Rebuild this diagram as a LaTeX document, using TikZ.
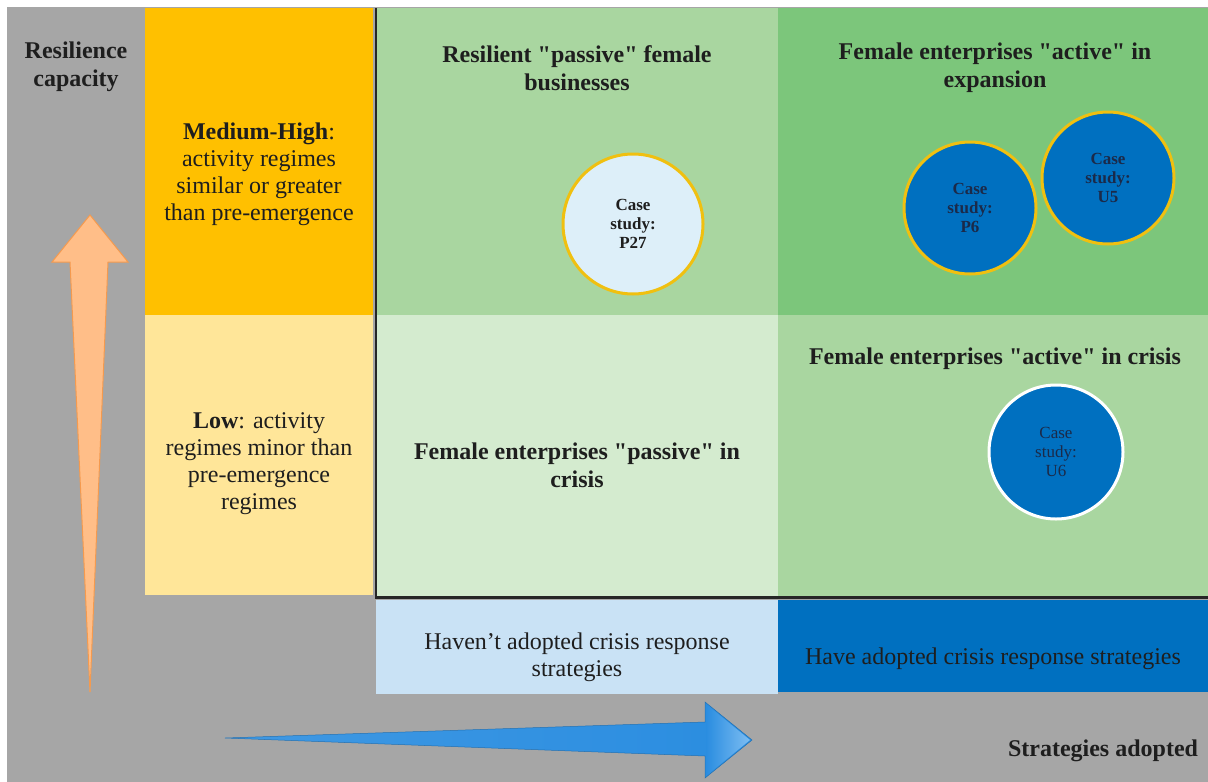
\documentclass[tikz,border=0pt]{standalone}
\usepackage{fontspec}
\setmainfont{Liberation Serif}
\newfontfamily\quadfont{Liberation Serif}
\usetikzlibrary{positioning}

\definecolor{bggray}{HTML}{A6A6A6}
\definecolor{highorange}{HTML}{FFC000}
\definecolor{lowyellow}{HTML}{FFE699}
\definecolor{greenmid}{HTML}{A9D6A0}
\definecolor{greendark}{HTML}{7CC67B}
\definecolor{greenpale}{HTML}{D4EBCF}
\definecolor{bluepale}{HTML}{C9E2F5}
\definecolor{bluestrong}{HTML}{0070C0}
\definecolor{casepale}{HTML}{DDEFF9}
\definecolor{goldedge}{HTML}{F0C010}
\definecolor{navytext}{HTML}{1B2A49}
\definecolor{inktext}{HTML}{1E1E1E}
\definecolor{peach}{HTML}{FFC597}
\definecolor{peachedge}{HTML}{F59A4E}
\definecolor{arrowblue}{HTML}{2A8DE0}
\definecolor{arrowbluelight}{HTML}{7DBDF2}

\begin{document}
\begin{tikzpicture}[
    x = 1pt, y = -1pt,
    cell/.style = {inner sep = 0pt, anchor = north west, draw = none},
    heading/.style = {align = center, text = inktext,
        font = \quadfont\fontsize{24}{28}\selectfont\bfseries},
    regime/.style = {align = center, text = inktext,
        font = \quadfont\fontsize{24}{27}\selectfont},
    casestudy/.style = {circle, minimum size = 134pt, line width = 3pt,
        draw = goldedge, align = center, inner sep = 0pt,
        font = \quadfont\fontsize{17}{19}\selectfont\bfseries},
  ]
  \useasboundingbox (0,0) rectangle (1208,782);
  \fill[white] (0,0) rectangle (1208,782);
  \fill[bggray] (7,7) rectangle (1208,782);

  % resilience levels on the left
  \node[cell, fill = highorange, minimum width = 228pt, minimum height = 307pt] (high) at (145,8) {};
  \node[cell, fill = lowyellow, minimum width = 228pt, minimum height = 280pt] (low) at (145,315) {};

  % the four quadrants
  \node[cell, fill = greenmid, minimum width = 402pt, minimum height = 307pt] (passhigh) at (376,8) {};
  \node[cell, fill = greendark, minimum width = 430pt, minimum height = 307pt] (acthigh) at (778,8) {};
  \node[cell, fill = greenpale, minimum width = 402pt, minimum height = 282pt] (passlow) at (376,315) {};
  \node[cell, fill = greenmid, minimum width = 430pt, minimum height = 282pt] (actlow) at (778,315) {};

  % strategy columns at the bottom
  \node[cell, fill = bluepale, minimum width = 402pt, minimum height = 94pt] (nostrat) at (376,600) {};
  \node[cell, fill = bluestrong, minimum width = 430pt, minimum height = 92pt] (strat) at (778,600) {};

  % frame lines
  \draw[line width = 2.5pt, black!85] (passhigh.north west) -- (passlow.south west) -- (actlow.south east);

  % axis arrows
  \shade[left color = peach!90!orange, middle color = peach!80!white, right color = peach!90!orange,
         draw = peachedge, line width = 1pt]
    (90,215) -- (128,262) -- (108,262) -- (90,692) -- (70,262) -- (52,262) -- cycle;
  \shade[left color = arrowblue!90!white, right color = arrowblue, draw = arrowblue!80!black, line width = 0.5pt]
    (225,738) -- (705,722) -- (705,702) -- (752,740) -- (705,778) -- (705,756) -- cycle;
  \shade[left color = arrowblue, right color = arrowbluelight]
    (706,704) -- (750,740) -- (706,776) -- cycle;

  % texts
  \node[heading] (rescap) at (76,67) {Resilience\\capacity};
  \node[regime] (hightext) at (259,174) {\textbf{Medium-High}:\\activity regimes\\similar or greater\\than pre-emergence};
  \node[regime] (lowtext) at (259,464) {\textbf{Low}: activity\\regimes minor than\\pre-emergence\\regimes};
  \node[heading] (passhightitle) at (577,68) {Resilient \textquotedbl passive\textquotedbl{} female\\businesses};
  \node[heading] (acthightitle) at (995,68) {Female enterprises \textquotedbl active\textquotedbl{} in\\expansion};
  \node[heading] (passlowtitle) at (577,465) {Female enterprises \textquotedbl passive\textquotedbl{} in\\crisis};
  \node[heading] (actlowtitle) at (995,359) {Female enterprises \textquotedbl active\textquotedbl{} in crisis};
  \node[regime] (nostrattext) at (577,657) {Haven’t adopted crisis response\\strategies};
  \node[regime] (strattext) at (993,659) {Have adopted crisis response strategies};
  \node[heading] (axislabel) at (1103,751) {Strategies adopted};

  % case studies
  \node[casestudy, fill = casepale, text = inktext, minimum size = 140pt] (p27) at (633,224) {Case\\study:\\P27};
  \node[casestudy, fill = bluestrong, text = navytext, minimum size = 132pt] (p6) at (970,208) {Case\\study:\\P6};
  \node[casestudy, fill = bluestrong, text = navytext, minimum size = 132pt] (u5) at (1108,178) {Case\\study:\\U5};
  \node[casestudy, fill = bluestrong, text = navytext, draw = white, font = \quadfont\fontsize{17}{19}\selectfont,
        minimum size = 134pt] (u6) at (1056,452) {Case\\study:\\U6};
\end{tikzpicture}
\end{document}
